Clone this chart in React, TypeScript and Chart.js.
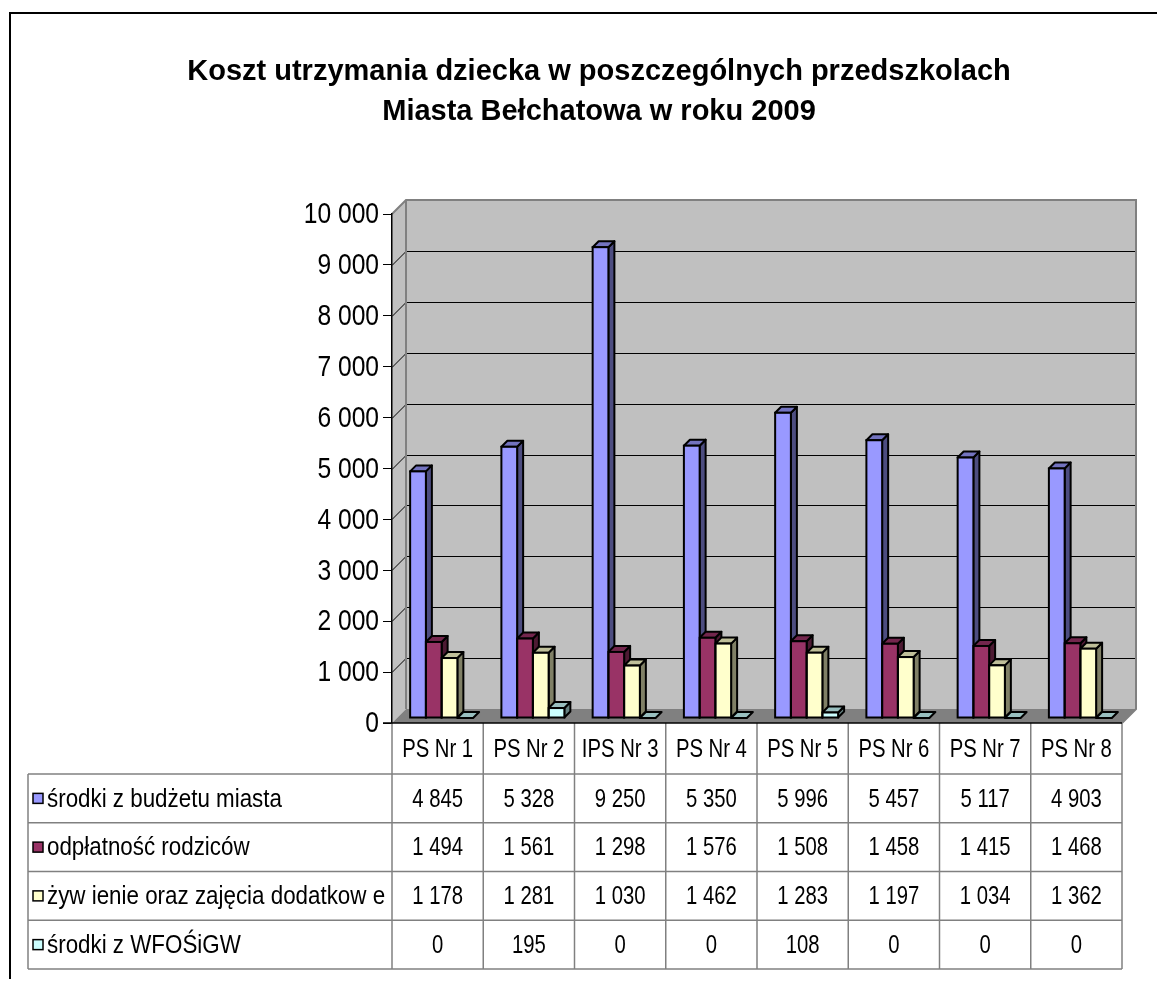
import React, { useEffect, useRef } from 'react';
import { Chart, registerables } from 'chart.js';

Chart.register(...registerables);

const titleLines = [
  'Koszt utrzymania dziecka w poszczególnych przedszkolach',
  'Miasta Bełchatowa w roku 2009',
];
const categories = ['PS Nr 1', 'PS Nr 2', 'IPS Nr 3', 'PS Nr 4', 'PS Nr 5', 'PS Nr 6', 'PS Nr 7', 'PS Nr 8'];
const seriesNames = [
  'środki z budżetu miasta',
  'odpłatność rodziców',
  'żyw ienie oraz zajęcia dodatkow e',
  'środki z WFOŚiGW',
];
const budzetMiasta = [4845, 5328, 9250, 5350, 5996, 5457, 5117, 4903];
const odplatnoscRodzicow = [1494, 1561, 1298, 1576, 1508, 1458, 1415, 1468];
const zywienieZajecia = [1178, 1281, 1030, 1462, 1283, 1197, 1034, 1362];
const srodkiWfos = [0, 195, 0, 0, 108, 0, 0, 0];
const yTicks = [0, 1000, 2000, 3000, 4000, 5000, 6000, 7000, 8000, 9000, 10000];

const frontColors = ['#9999FF', '#993366', '#FFFFCC', '#CCFFFF'];
const sideColors = ['#4D4D80', '#4D1A33', '#808066', '#668080'];
const topColors = ['#7373BF', '#73264D', '#BFBF99', '#99BFBF'];

const FONT = "'Liberation Sans', Arial, sans-serif";
const TEXT_SIZE = 26;
const TEXT_SX = 0.78;
const LEGEND_SX = 0.86;
const AXIS_SIZE = 30;
const AXIS_SX = 0.82;
const WALL_D = 14;
const BAR_OFF_X = 4;
const BAR_OFF_Y = -5;
const BAR_D = 6;

const fmt = (v: number) => String(v).replace(/\B(?=(\d{3})+(?!\d))/g, ' ');

function drawText(ctx: CanvasRenderingContext2D, text: string, x: number, y: number, align: CanvasTextAlign, size: number, sx: number) {
  ctx.save();
  ctx.translate(x, y);
  ctx.scale(sx, 1);
  ctx.font = `${size}px ${FONT}`;
  ctx.textAlign = align;
  ctx.textBaseline = 'middle';
  ctx.fillStyle = '#000';
  ctx.fillText(text, 0, 0);
  ctx.restore();
}

const threeD = {
  id: 'threeD',
  beforeDraw(chart: any) {
    const { ctx, chartArea: a, scales } = chart;
    const y = scales.y;
    const top = y.getPixelForValue(yTicks[yTicks.length - 1]);
    const bot = y.getPixelForValue(0);
    const L = a.left;
    const R = a.right;
    const D = WALL_D;
    ctx.save();
    ctx.fillStyle = '#FFFFFF';
    ctx.fillRect(0, 0, chart.width, chart.height);
    ctx.strokeStyle = '#000';
    ctx.lineWidth = 2;
    ctx.strokeRect(2, 5, chart.width + 50, chart.height + 50);
    // back wall
    ctx.fillStyle = '#C0C0C0';
    ctx.fillRect(L + D, top - D, R - L, bot - top);
    // side wall
    ctx.beginPath();
    ctx.moveTo(L, top);
    ctx.lineTo(L + D, top - D);
    ctx.lineTo(L + D, bot - D);
    ctx.lineTo(L, bot);
    ctx.closePath();
    ctx.fill();
    // floor
    ctx.fillStyle = '#808080';
    ctx.beginPath();
    ctx.moveTo(L, bot);
    ctx.lineTo(L + D, bot - D);
    ctx.lineTo(R + D, bot - D);
    ctx.lineTo(R, bot);
    ctx.closePath();
    ctx.fill();
    // gridlines
    ctx.strokeStyle = '#000';
    ctx.lineWidth = 1;
    for (const v of yTicks) {
      if (v === 0 || v === yTicks[yTicks.length - 1]) continue;
      const py = Math.round(y.getPixelForValue(v)) + 0.5;
      ctx.beginPath();
      ctx.moveTo(L, py);
      ctx.lineTo(L + D, py - D);
      ctx.lineTo(R + D, py - D);
      ctx.stroke();
    }
    // wall borders
    ctx.strokeStyle = '#808080';
    ctx.lineWidth = 2;
    ctx.beginPath();
    ctx.moveTo(L, top);
    ctx.lineTo(L + D, top - D);
    ctx.lineTo(R + D, top - D);
    ctx.lineTo(R + D, bot - D);
    ctx.lineTo(R, bot);
    ctx.stroke();
    ctx.beginPath();
    ctx.moveTo(L + D, top - D);
    ctx.lineTo(L + D, bot - D);
    ctx.stroke();
    ctx.restore();
  },
  afterDraw(chart: any) {
    const { ctx, chartArea: a, scales } = chart;
    const x = scales.x;
    const y = scales.y;
    // y-axis tick labels (condensed, as in the reference)
    for (const t of y.ticks) {
      drawText(ctx, fmt(t.value), a.left - 13, y.getPixelForValue(t.value) + 1, 'right', AXIS_SIZE, AXIS_SX);
    }
    const n = categories.length;
    const catW = (a.right - a.left) / n;
    const top = y.getPixelForValue(0);
    const headH = 51;
    const rowH = 48.75;
    const tblLeft = 20;
    const series = chart.data.datasets;
    const bottom = top + headH + series.length * rowH;
    const edges: number[] = [];
    for (let i = 0; i < n; i++) edges.push(x.getPixelForValue(i) - catW / 2);
    edges.push(x.getPixelForValue(n - 1) + catW / 2);
    ctx.save();
    ctx.strokeStyle = '#808080';
    ctx.lineWidth = 1.5;
    for (const ex of edges) {
      ctx.beginPath();
      ctx.moveTo(ex, top);
      ctx.lineTo(ex, bottom);
      ctx.stroke();
    }
    ctx.beginPath();
    ctx.moveTo(tblLeft, top + headH);
    ctx.lineTo(tblLeft, bottom);
    ctx.stroke();
    for (let r = 0; r <= series.length; r++) {
      const py = top + headH + r * rowH;
      ctx.beginPath();
      ctx.moveTo(tblLeft, py);
      ctx.lineTo(edges[n], py);
      ctx.stroke();
    }
    // x axis line
    ctx.strokeStyle = '#000';
    ctx.lineWidth = 1.5;
    ctx.beginPath();
    ctx.moveTo(a.left - 9, top);
    ctx.lineTo(edges[n], top);
    ctx.stroke();

    for (let i = 0; i < n; i++) {
      drawText(ctx, categories[i], x.getPixelForValue(i), top + headH / 2 + 1, 'center', TEXT_SIZE, TEXT_SX);
    }
    series.forEach((ds: any, r: number) => {
      const cy = top + headH + r * rowH + rowH / 2;
      for (let i = 0; i < n; i++) {
        drawText(ctx, fmt(ds.data[i]), x.getPixelForValue(i), cy + 1, 'center', TEXT_SIZE, TEXT_SX);
      }
      ctx.fillStyle = frontColors[r];
      ctx.fillRect(tblLeft + 5, cy - 5, 10, 10);
      ctx.lineWidth = 1.5;
      ctx.strokeStyle = '#000';
      ctx.strokeRect(tblLeft + 5, cy - 5, 10, 10);
      drawText(ctx, ds.label, tblLeft + 19, cy + 1, 'left', TEXT_SIZE, LEGEND_SX);
    });
    ctx.restore();
  },
  beforeDatasetsDraw(chart: any) {
    const ctx = chart.ctx;
    ctx.save();
    ctx.translate(BAR_OFF_X, BAR_OFF_Y);
    ctx.save();
    const nDs = chart.data.datasets.length;
    const n = chart.data.labels.length;
    ctx.lineWidth = 2;
    ctx.strokeStyle = '#000';
    ctx.lineJoin = 'round';
    for (let c = 0; c < n; c++) {
      for (let d = 0; d < nDs; d++) {
        const el = chart.getDatasetMeta(d).data[c];
        if (!el) continue;
        const { x, y, base, width } = el.getProps(['x', 'y', 'base', 'width'], true);
        const l = x - width / 2;
        const r = x + width / 2;
        const t = Math.min(y, base);
        const b = Math.max(y, base);
        if (b - t > 0.5) {
          ctx.fillStyle = sideColors[d];
          ctx.beginPath();
          ctx.moveTo(r, t);
          ctx.lineTo(r + BAR_D, t - BAR_D);
          ctx.lineTo(r + BAR_D, b - BAR_D);
          ctx.lineTo(r, b);
          ctx.closePath();
          ctx.fill();
          ctx.stroke();
        }
        ctx.fillStyle = topColors[d];
        ctx.beginPath();
        ctx.moveTo(l, t);
        ctx.lineTo(l + BAR_D, t - BAR_D);
        ctx.lineTo(r + BAR_D, t - BAR_D);
        ctx.lineTo(r, t);
        ctx.closePath();
        ctx.fill();
        ctx.stroke();
      }
    }
    ctx.restore();
  },
  afterDatasetsDraw(chart: any) {
    const ctx = chart.ctx;
    ctx.save();
    ctx.lineWidth = 2;
    ctx.strokeStyle = '#000';
    const nDs = chart.data.datasets.length;
    const n = chart.data.labels.length;
    for (let c = 0; c < n; c++) {
      for (let d = 0; d < nDs; d++) {
        const el = chart.getDatasetMeta(d).data[c];
        if (!el) continue;
        const { x, y, base, width } = el.getProps(['x', 'y', 'base', 'width'], true);
        const t = Math.min(y, base);
        const b = Math.max(y, base);
        if (b - t > 0.5) ctx.strokeRect(x - width / 2, t, width, b - t);
      }
    }
    ctx.restore();
    ctx.restore();
  },
};

export default function App() {
  const ref = useRef<HTMLCanvasElement>(null);
  useEffect(() => {
    const seriesValues = [budzetMiasta, odplatnoscRodzicow, zywienieZajecia, srodkiWfos];
    const chart = new Chart(ref.current as HTMLCanvasElement, {
      type: 'bar',
      data: {
        labels: categories,
        datasets: seriesValues.map((vals, i) => ({
          label: seriesNames[i],
          data: vals,
          backgroundColor: frontColors[i],
          borderWidth: 0,
          categoryPercentage: 0.69,
          barPercentage: 1,
          clip: false as any,
        })),
      },
      options: {
        animation: false,
        responsive: true,
        maintainAspectRatio: false,
        devicePixelRatio: 1,
        layout: { padding: { left: 68, right: 35, top: 0, bottom: 256 } },
        plugins: {
          legend: { display: false },
          tooltip: { enabled: false },
          title: {
            display: true,
            text: titleLines,
            color: '#000',
            font: { family: FONT, weight: 'bold', size: 29, lineHeight: '40px' as any },
            padding: { top: 44, bottom: 82 },
          },
        },
        scales: {
          x: { display: false },
          y: {
            min: 0,
            max: 10000,
            afterFit: (s: any) => {
              s.width = 316;
            },
            afterBuildTicks: (s: any) => {
              s.ticks = yTicks.map((v) => ({ value: v }));
            },
            ticks: {
              display: false,
              callback: (v: any) => fmt(Number(v)),
            },
            grid: {
              drawOnChartArea: false,
              drawTicks: true,
              tickLength: 9,
              color: '#000',
              lineWidth: 1,
            },
            border: { display: true, color: '#000', width: 1.5 },
          },
        },
      },
      plugins: [threeD as any],
    });
    return () => chart.destroy();
  }, []);
  return (
    <div style={{ width: 1149, height: 971, position: 'relative' }}>
      <canvas ref={ref} />
    </div>
  );
}
